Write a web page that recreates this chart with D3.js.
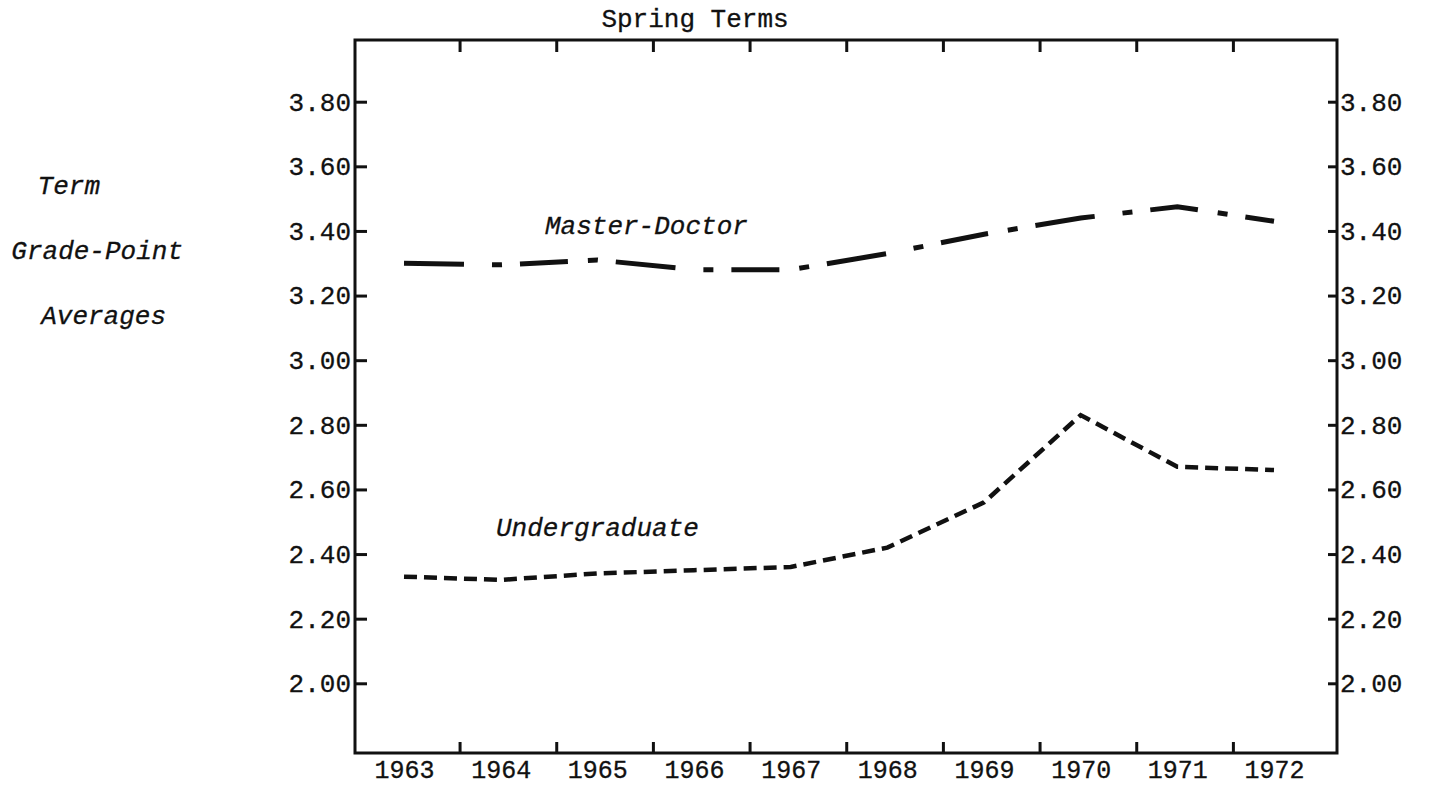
<!DOCTYPE html>
<html>
<head>
<meta charset="utf-8">
<script src="https://cdn.jsdelivr.net/npm/d3@7"></script>
<style>
  body { margin: 0; background: #fff; }
  text { font-family: "Liberation Mono", "Courier New", monospace; fill: #111; stroke: #111; stroke-width: 0.3px; }
  .italic { font-style: italic; }
</style>
</head>
<body>
<div id="chart"></div>
<script>
var years = [1963, 1964, 1965, 1966, 1967, 1968, 1969, 1970, 1971, 1972];
var masterDoctor = [3.30, 3.295, 3.31, 3.28, 3.28, 3.33, 3.39, 3.44, 3.475, 3.43];
var undergraduate = [2.33, 2.32, 2.34, 2.35, 2.36, 2.42, 2.56, 2.83, 2.67, 2.66];
var gpaTicks = [2.00, 2.20, 2.40, 2.60, 2.80, 3.00, 3.20, 3.40, 3.60, 3.80];
var yTitle = ["Term", "Grade-Point", "Averages"];
var title = "Spring Terms";

var width = 1432, height = 787;
var frame = {left: 355, right: 1337, top: 40, bottom: 753};

var svg = d3.select("#chart").append("svg")
    .attr("width", width)
    .attr("height", height);

var xScale = d3.scalePoint()
    .domain(years)
    .range([404, 1274]);
var step = xScale.step();

var yScale = d3.scaleLinear()
    .domain([2.0, 3.8])
    .range([683.3, 101.7]);

// box round the plot
svg.append("rect")
    .attr("x", frame.left)
    .attr("y", frame.top)
    .attr("width", frame.right - frame.left)
    .attr("height", frame.bottom - frame.top)
    .attr("fill", "none")
    .attr("stroke", "#111")
    .attr("stroke-width", 3);

// left and right gpa axes, ticks pointing inside
var leftAxis = svg.append("g")
    .attr("transform", "translate(" + frame.left + ",0)")
    .call(d3.axisLeft(yScale).tickValues(gpaTicks).tickFormat(d3.format(".2f"))
      .tickSizeInner(-12).tickSizeOuter(0).tickPadding(4));
var rightAxis = svg.append("g")
    .attr("transform", "translate(" + frame.right + ",0)")
    .call(d3.axisRight(yScale).tickValues(gpaTicks).tickFormat(d3.format(".2f"))
      .tickSizeInner(-9).tickSizeOuter(0).tickPadding(3));

// year labels
var bottomAxis = svg.append("g")
    .attr("transform", "translate(0," + frame.bottom + ")")
    .call(d3.axisBottom(xScale).tickSize(0).tickPadding(7));

[leftAxis, rightAxis, bottomAxis].forEach(function(g) {
  g.select(".domain").remove();
  g.selectAll(".tick line").attr("stroke", "#111").attr("stroke-width", 3);
  g.selectAll(".tick text")
    .attr("font-family", null)
    .style("font-size", "26px");
});
bottomAxis.selectAll(".tick text").style("font-size", "25px");

// year ticks sit between the labels, on top and bottom edges
var sepYears = years.slice(0, -1);
svg.append("g").selectAll("line.bottom-tick")
    .data(sepYears)
    .enter().append("line")
    .attr("class", "bottom-tick")
    .attr("x1", function(d) { return xScale(d) + step * 0.58; })
    .attr("x2", function(d) { return xScale(d) + step * 0.58; })
    .attr("y1", frame.bottom)
    .attr("y2", frame.bottom - 11)
    .attr("stroke", "#111")
    .attr("stroke-width", 3);
svg.append("g").selectAll("line.top-tick")
    .data(sepYears)
    .enter().append("line")
    .attr("class", "top-tick")
    .attr("x1", function(d) { return xScale(d) + step * 0.58; })
    .attr("x2", function(d) { return xScale(d) + step * 0.58; })
    .attr("y1", frame.top)
    .attr("y2", frame.top + 12)
    .attr("stroke", "#111")
    .attr("stroke-width", 3);

var line = d3.line()
    .x(function(d) { return xScale(d[0]); })
    .y(function(d) { return yScale(d[1]); });

svg.append("path")
    .datum(d3.zip(years, masterDoctor))
    .attr("d", line)
    .attr("fill", "none")
    .attr("stroke", "#111")
    .attr("stroke-width", 5)
    .attr("stroke-dasharray", "60,28,10,18,48,20,10,18");

svg.append("path")
    .datum(d3.zip(years, undergraduate))
    .attr("d", line)
    .attr("fill", "none")
    .attr("stroke", "#111")
    .attr("stroke-width", 4.5)
    .attr("stroke-dasharray", "13,7");

// texts
svg.append("text")
    .attr("x", 695)
    .attr("y", 27)
    .attr("text-anchor", "middle")
    .style("font-size", "26px")
    .text(title);

svg.append("text")
    .attr("class", "italic")
    .attr("x", 545)
    .attr("y", 234)
    .style("font-size", "26px")
    .text("Master-Doctor");

svg.append("text")
    .attr("class", "italic")
    .attr("x", 496)
    .attr("y", 536)
    .style("font-size", "26px")
    .text("Undergraduate");

var titleEnds = [100, 183, 166];
svg.append("g").selectAll("text")
    .data(yTitle)
    .enter().append("text")
    .attr("class", "italic")
    .attr("x", function(d, i) { return titleEnds[i]; })
    .attr("y", function(d, i) { return 194 + i * 65; })
    .attr("text-anchor", "end")
    .style("font-size", "26px")
    .text(function(d) { return d; });
</script>
</body>
</html>
